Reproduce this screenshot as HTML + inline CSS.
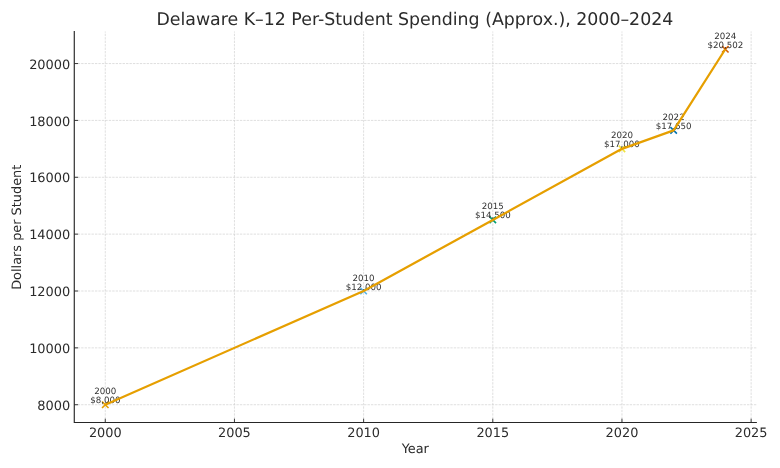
<!DOCTYPE html>
<html lang="en"><head><meta charset="utf-8"><title>Delaware K–12 Per-Student Spending</title>
<style>html,body{margin:0;padding:0;background:#fff;}body{width:780px;height:468px;overflow:hidden;}svg{display:block;}text{text-rendering:geometricPrecision;font-family:"DejaVu Sans","Liberation Sans",sans-serif;fill:#2b2b2b;}.ann text{fill:#333;}</style></head><body>
<svg width="780" height="468" viewBox="0 0 780 468">
<rect width="780" height="468" fill="#fff"/>
<g stroke="#cecece" stroke-width="0.65" stroke-dasharray="2.35 1.1" fill="none">
<line x1="105.28" y1="422.50" x2="105.28" y2="31.50"/>
<line x1="234.45" y1="422.50" x2="234.45" y2="31.50"/>
<line x1="363.62" y1="422.50" x2="363.62" y2="31.50"/>
<line x1="492.79" y1="422.50" x2="492.79" y2="31.50"/>
<line x1="621.96" y1="422.50" x2="621.96" y2="31.50"/>
<line x1="751.13" y1="422.50" x2="751.13" y2="31.50"/>
<line x1="74.28" y1="404.73" x2="756.30" y2="404.73"/>
<line x1="74.28" y1="347.86" x2="756.30" y2="347.86"/>
<line x1="74.28" y1="291.00" x2="756.30" y2="291.00"/>
<line x1="74.28" y1="234.14" x2="756.30" y2="234.14"/>
<line x1="74.28" y1="177.27" x2="756.30" y2="177.27"/>
<line x1="74.28" y1="120.41" x2="756.30" y2="120.41"/>
<line x1="74.28" y1="63.55" x2="756.30" y2="63.55"/>
</g>
<path d="M102.03 401.48L108.53 407.98M102.03 407.98L108.53 401.48" stroke="#E69F00" stroke-width="1.6" fill="none"/>
<path d="M360.37 287.75L366.87 294.25M360.37 294.25L366.87 287.75" stroke="#56B4E9" stroke-width="1.6" fill="none"/>
<path d="M489.54 216.67L496.04 223.17M489.54 223.17L496.04 216.67" stroke="#009E73" stroke-width="1.6" fill="none"/>
<path d="M618.71 145.59L625.21 152.09M618.71 152.09L625.21 145.59" stroke="#F0E442" stroke-width="1.6" fill="none"/>
<path d="M670.38 127.11L676.88 133.61M670.38 133.61L676.88 127.11" stroke="#0072B2" stroke-width="1.6" fill="none"/>
<path d="M722.05 46.02L728.55 52.52M722.05 52.52L728.55 46.02" stroke="#D55E00" stroke-width="1.6" fill="none"/>
<g stroke="#262626" stroke-width="0.9" fill="none">
<line x1="105.28" y1="422.50" x2="105.28" y2="418.70"/>
<line x1="234.45" y1="422.50" x2="234.45" y2="418.70"/>
<line x1="363.62" y1="422.50" x2="363.62" y2="418.70"/>
<line x1="492.79" y1="422.50" x2="492.79" y2="418.70"/>
<line x1="621.96" y1="422.50" x2="621.96" y2="418.70"/>
<line x1="751.13" y1="422.50" x2="751.13" y2="418.70"/>
<line x1="74.28" y1="404.73" x2="78.08" y2="404.73"/>
<line x1="74.28" y1="347.86" x2="78.08" y2="347.86"/>
<line x1="74.28" y1="291.00" x2="78.08" y2="291.00"/>
<line x1="74.28" y1="234.14" x2="78.08" y2="234.14"/>
<line x1="74.28" y1="177.27" x2="78.08" y2="177.27"/>
<line x1="74.28" y1="120.41" x2="78.08" y2="120.41"/>
<line x1="74.28" y1="63.55" x2="78.08" y2="63.55"/>
</g>
<path d="M74.28 31.50L74.28 422.50L756.30 422.50" stroke="#262626" stroke-width="1.15" fill="none" stroke-linecap="square" stroke-linejoin="miter"/>
<g font-size="12.88px" text-anchor="middle">
<text x="105.28" y="436.6">2000</text>
<text x="234.45" y="436.6">2005</text>
<text x="363.62" y="436.6">2010</text>
<text x="492.79" y="436.6">2015</text>
<text x="621.96" y="436.6">2020</text>
<text x="751.13" y="436.6">2025</text>
</g>
<g font-size="12.95px" text-anchor="end">
<text x="70.3" y="409.83">8000</text>
<text x="70.3" y="352.96">10000</text>
<text x="70.3" y="296.10">12000</text>
<text x="70.3" y="239.24">14000</text>
<text x="70.3" y="182.37">16000</text>
<text x="70.3" y="125.51">18000</text>
<text x="70.3" y="68.65">20000</text>
</g>
<text x="415.29" y="453.25" font-size="12.88px" text-anchor="middle">Year</text>
<text transform="translate(21.0 227.25) rotate(-90)" font-size="12.88px" text-anchor="middle">Dollars per Student</text>
<text x="414.85" y="25.1" font-size="17.37px" text-anchor="middle">Delaware K–12 Per-Student Spending (Approx.), 2000–2024</text>
<g class="ann" font-size="8.67px" text-anchor="middle">
<text x="105.28" y="394.23">2000</text>
<text x="105.28" y="403.23">$8,000</text>
<text x="363.62" y="280.50">2010</text>
<text x="363.62" y="289.50">$12,000</text>
<text x="492.79" y="209.42">2015</text>
<text x="492.79" y="218.42">$14,500</text>
<text x="621.96" y="138.34">2020</text>
<text x="621.96" y="147.34">$17,000</text>
<text x="673.63" y="119.86">2022</text>
<text x="673.63" y="128.86">$17,650</text>
<text x="725.30" y="38.77">2024</text>
<text x="725.30" y="47.77">$20,502</text>
</g>
<polyline fill="none" stroke="#E69F00" stroke-width="2.25" stroke-linejoin="round" stroke-linecap="butt" points="105.28,404.73 363.62,291.00 492.79,219.92 621.96,148.84 673.63,130.36 725.30,49.27"/>
</svg></body></html>
